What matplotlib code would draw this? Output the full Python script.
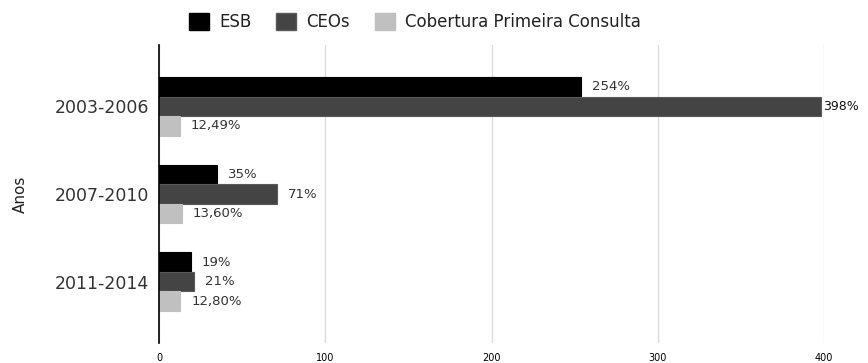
import numpy as np
import matplotlib
matplotlib.use("Agg")
import matplotlib.pyplot as plt
from matplotlib.patches import Patch

# Periods and growth/coverage values (%)
anos = ["2003-2006", "2007-2010", "2011-2014"]
esb = [254, 35, 19]
ceos = [398, 71, 21]
cobertura = [12.49, 13.60, 12.80]

series_names = ["ESB", "CEOs", "Cobertura Primeira Consulta"]
x_ticks = [0, 100, 200, 300, 400]


def fmt_pct(v):
    if float(v).is_integer():
        return f"{int(v)}%"
    return f"{v:.2f}%".replace(".", ",")


def main():
    plt.rcParams["font.family"] = ["DejaVu Sans"]

    fig = plt.figure(figsize=(8.68, 3.63), dpi=100)
    ax = fig.add_axes([159 / 868, 20 / 363, 665 / 868, 298 / 363])

    colors = ["#000000", "#444444", "#c0c0c0"]
    edges = ["#000000", "#5a5a5a", "#c0c0c0"]
    h = 0.223
    y = np.arange(len(anos))
    offsets = [-h, 0.0, h]

    for vals, off, c, ec in zip([esb, ceos, cobertura], offsets, colors, edges):
        bars = ax.barh(y + off, vals, height=h, color=c, edgecolor=ec,
                       linewidth=0.8, zorder=3)
        for b, v in zip(bars, vals):
            yc = b.get_y() + b.get_height() / 2
            if v == max(ceos):
                # label right at the end of the longest bar
                ax.annotate(fmt_pct(v), (v, yc), xytext=(1.5, 0),
                            textcoords="offset points", va="center", ha="left",
                            fontsize=9, color="#111111", annotation_clip=False)
            else:
                ax.annotate(fmt_pct(v), (v, yc), xytext=(8, 0),
                            textcoords="offset points", va="center", ha="left",
                            fontsize=9.5, color="#333333")

    ax.set_xlim(0, 400)
    ax.set_ylim(2.70, -0.70)
    ax.set_yticks(y)
    ax.set_yticklabels(anos, fontsize=12.5, color="#333333")
    ax.set_xticks(x_ticks)
    ax.set_xticklabels([str(t) for t in x_ticks], fontsize=7)
    ax.tick_params(axis="both", length=0)
    ax.tick_params(axis="y", pad=7)
    ax.tick_params(axis="x", pad=7)

    for s in ["top", "right", "bottom"]:
        ax.spines[s].set_visible(False)
    ax.spines["left"].set_linewidth(1.2)
    ax.spines["left"].set_color("#000000")
    ax.spines["left"].set_zorder(4)

    ax.xaxis.grid(True, color="#dddddd", linewidth=1.0, zorder=0)
    ax.set_axisbelow(True)

    ax.set_ylabel("Anos", fontsize=11, color="#222222")
    ax.yaxis.set_label_coords(-131 / 665, 0.5)

    handles = [Patch(facecolor=c, edgecolor=ec) for c, ec in zip(colors, edges)]
    fig.legend(handles, series_names, loc="center", bbox_to_anchor=(0.478, 0.939),
               ncol=3, frameon=False, fontsize=12, handlelength=1.2,
               handleheight=1.2, handletextpad=0.6, columnspacing=1.5,
               labelcolor="#222222")

    fig.savefig("out.png", dpi=100)


if __name__ == "__main__":
    main()
